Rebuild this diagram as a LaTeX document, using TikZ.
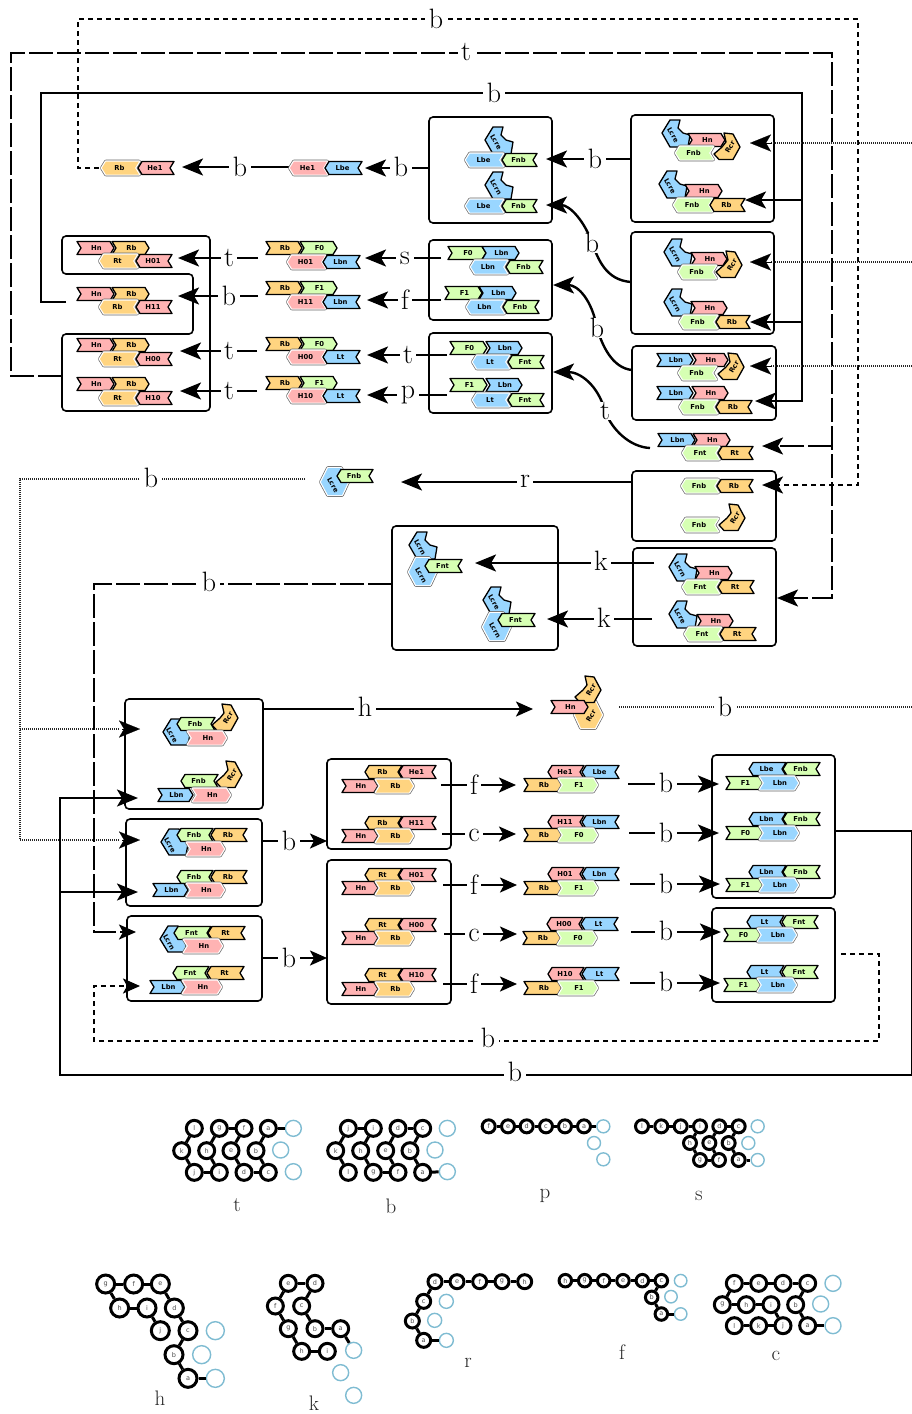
\documentclass[tikz,border=0pt]{standalone}
\usepackage{fontspec}
\usetikzlibrary{arrows.meta,fit}
\newfontfamily\glyf{DejaVu Sans}
\definecolor{bl}{HTML}{99D6FF}
\definecolor{pk}{HTML}{FFB3B3}
\definecolor{or}{HTML}{FFD480}
\definecolor{gr}{HTML}{D6FFB3}
\definecolor{ringblue}{HTML}{7FBCD2}
\tikzset{
  seglabel/.style={font=\glyf\bfseries\fontsize{6.8}{7}\selectfont,inner sep=0pt,text=black},
  box/.style={draw=black,line width=1.6pt,rounded corners=4pt,inner sep=0pt,outer sep=0pt},
  lbl/.style={font=\fontsize{28}{30}\selectfont,fill=white,inner xsep=3.5pt,inner ysep=0pt},
  captxt/.style={font=\fontsize{21}{23}\selectfont,inner sep=0pt,text=black!85},
  wire/.style={line width=2.4pt},
  arr/.style={wire,-{Stealth[length=21pt,width=17pt,inset=5pt]}},
  sarr/.style={wire,-{Stealth[length=17pt,width=15pt,inset=4pt]}},
  longd/.style={line width=2.5pt,dash pattern=on 24pt off 4pt},
  meddash/.style={line width=2.2pt,dash pattern=on 5pt off 4pt},
  fine/.style={line width=2pt,dash pattern=on 1pt off 1pt,draw=black!85},
  ringn/.style={circle,draw=black,fill=white,inner sep=0pt,font=\glyf\fontsize{6.5}{6.5}\selectfont,text=black!70},
  ringb/.style={circle,draw=ringblue,fill=white,line width=1.4pt,inner sep=0pt},
  ringl/.style={line width=3pt},
}
\newcommand\blkshape[2]{\path[draw=black,line width=1.3pt,fill=#1,line join=round] #2;}
\newcommand\grayshape[2]{\path[draw=black!60,line width=3.8pt,line join=round] #2; \path[draw=white,line width=2.4pt,line join=round] #2; \path[fill=#1] #2;}
\newcounter{sg}
\newcommand\seglab[2]{\stepcounter{sg}\node[seglabel] (sg\arabic{sg}) at (#1) {#2};}
\newcommand\pF[3]{(#1,#3-6.5)--(#2-4,#3-6.5)--(#2,#3)--(#2-4,#3+6.5)--(#1,#3+6.5)--(#1+4,#3)--cycle}
\newcommand\pR[3]{(#1+4,#3-6.5)--(#2,#3-6.5)--(#2-4,#3)--(#2,#3+6.5)--(#1+4,#3+6.5)--(#1,#3)--cycle}
% straight segments: x1 x2 y colour label
\newcommand\F[5]{\blkshape{#4}{\pF{#1}{#2}{#3}}\seglab{{(#1+#2)/2+1},#3}{#5}}
\newcommand\Fg[5]{\grayshape{#4}{\pF{#1}{#2}{#3}}\seglab{{(#1+#2)/2+1},#3}{#5}}
\newcommand\R[5]{\blkshape{#4}{\pR{#1}{#2}{#3}}\seglab{{(#1+#2)/2-1},#3}{#5}}
\newcommand\Rg[5]{\grayshape{#4}{\pR{#1}{#2}{#3}}\seglab{{(#1+#2)/2-1},#3}{#5}}
% hairpins
\newcommand\polyLA{(4,-13)--(-6,-13)--(-14,0)--(-6,14)--(12,14)--(14,2)--(7,0)--(2,-5)--cycle}
\newcommand\polyLB{(-12,0)--(-4,-13)--(6,-13)--(15,2)--(13,13)--(-4,13)--cycle}
\newcommand\polyHX{(-14,0)--(-7,-14)--(6,-14)--(13,0)--(7,13)--(-7,13)--cycle}
\newcommand\polyRN{(-3,-14)--(6,-13)--(13,0)--(6,12.5)--(-8,12.5)--(-13,7)--(-5,0)--(-1,-5)--cycle}
\newcommand\LA[3]{\begin{scope}[shift={(#1,#2)}]\blkshape{bl}{\polyLA}\stepcounter{sg}\node[seglabel,rotate=-60] (sg\arabic{sg}) at (-3,2) {#3};\end{scope}}
\newcommand\LB[3]{\begin{scope}[shift={(#1,#2)}]\blkshape{bl}{\polyLB}\stepcounter{sg}\node[seglabel,rotate=-60] (sg\arabic{sg}) at (-3,3) {#3};\end{scope}}
\newcommand\HX[3]{\begin{scope}[shift={(#1,#2)}]\grayshape{bl}{\polyHX}\stepcounter{sg}\node[seglabel,rotate=-60] (sg\arabic{sg}) at (-2,3) {#3};\end{scope}}
\newcommand\RN[2]{\begin{scope}[shift={(#1,#2)}]\blkshape{or}{\polyRN}\stepcounter{sg}\node[seglabel,rotate=60] (sg\arabic{sg}) at (3,0) {Rcr};\end{scope}}
\newcommand\RX[2]{\begin{scope}[shift={(#1,#2)},xscale=-1]\grayshape{or}{\polyHX}\end{scope}\stepcounter{sg}\node[seglabel,rotate=60] (sg\arabic{sg}) at (#1+3,#2+1) {Rcr};}
% boxes
\newcommand\bx[5]{\node[box,fit={(#2,#3) (#4,#5)}] (#1) {};}
% straight connector with a label
\newcommand\conn[6]{\coordinate (#1s) at (#3); \coordinate (#1e) at (#4); \draw[#2] (#1s) -- (#1e); \node[lbl] (#1l) at (#5) {#6};}
% ring diagrams: prefix, origin x, origin y, diameter, black nodes, blue nodes, chain
\newcommand\ringd[7]{\begin{scope}[shift={(#2,#3)},x=.33333pt,y=-.33333pt]
  \foreach \nn/\xx/\yy in {#5} {\node[ringn,line width=3pt,minimum size=#4pt] (#1\nn) at (\xx,\yy) {\nn};}
  \foreach \nn/\xx/\yy in {#6} {\node[ringb,minimum size=#4pt] (#1\nn) at (\xx,\yy) {};}
  \foreach \pp/\qq in {#7} {\draw[ringl] (#1\pp) -- (#1\qq);}
\end{scope}}
\begin{document}
\begin{tikzpicture}[x=1pt,y=-1pt]
\useasboundingbox (0,0) rectangle (912,1414);
\fill[white] (0,0) rectangle (912,1414);
% ---------- boxes
\bx{B1}{429}{117}{552}{223}
\bx{B2}{631}{115}{774}{222}
\bx{B3}{631}{232}{774}{334}
\bx{B4}{632}{346}{776}{420}
\bx{B5}{429}{240}{552}{320}
\bx{B6}{429}{333}{552}{413}
\bx{B7}{632}{471}{776}{541}
\bx{B8}{392}{526}{558}{650}
\bx{B9}{633}{548}{776}{646}
\bx{B10}{125}{699}{263}{809}
\bx{B11}{126}{819}{262}{906}
\bx{B12}{127}{916}{262}{1001}
\bx{B13}{327}{759}{451}{849}
\bx{B14}{327}{860}{451}{1004}
\bx{B15}{712}{755}{835}{898}
\bx{B16}{712}{908}{835}{1002}
\draw[box] (62,236) -- (210,236) -- (210,411) -- (62,411) -- (62,334) -- (193,334) -- (193,274) -- (62,274) -- cycle;
% ---------- connectors
% long dotted/dashed loops
\coordinate (a1) at (99,168); \coordinate (a2) at (78,168); \coordinate (a3) at (78,19); \coordinate (a4) at (858,19); \coordinate (a5) at (858,485); \coordinate (a6) at (762,485);
\draw[meddash,-{Stealth[length=21pt,width=17pt,inset=5pt]}] (a1) -- (a2) -- (a3) -- (a4) -- (a5) -- (a6);
\node[lbl] (a7) at (436,19) {b};
\coordinate (t1) at (62,376); \coordinate (t2) at (11,376); \coordinate (t3) at (11,53); \coordinate (t4) at (832,53); \coordinate (t5) at (832,598); \coordinate (t6) at (777,598); \coordinate (t7) at (832,446); \coordinate (t8) at (762,446);
\draw[longd,-{Stealth[length=21pt,width=17pt,inset=5pt]}] (t1) -- (t2) -- (t3) -- (t4) -- (t5) -- (t6);
\draw[longd,-{Stealth[length=21pt,width=17pt,inset=5pt]}] (t7) -- (t8);
\node[lbl] (t9) at (466,52) {t};
\coordinate (u1) at (66,302); \coordinate (u2) at (41,302); \coordinate (u3) at (41,93); \coordinate (u4) at (802,93); \coordinate (u5) at (802,401); \coordinate (u6) at (755,401); \coordinate (u7) at (802,200); \coordinate (u8) at (745,200); \coordinate (u9) at (802,322); \coordinate (u10) at (750,322);
\draw[arr] (u1) -- (u2) -- (u3) -- (u4) -- (u5) -- (u6);
\draw[arr] (u7) -- (u8);
\draw[arr] (u9) -- (u10);
\node[lbl] (u11) at (494,93) {b};
% dotted from the Hn Rcr product to the three right-hand entries
\coordinate (d1) at (912,143); \coordinate (d2) at (750,143); \coordinate (d3) at (912,262); \coordinate (d4) at (750,262); \coordinate (d5) at (912,366); \coordinate (d6) at (750,366);
\draw[fine] (d1) -- (770,143); \draw[arr,line width=.1pt] (772,143) -- (d2);
\draw[fine] (d3) -- (770,262); \draw[arr,line width=.1pt] (772,262) -- (d4);
\draw[fine] (d5) -- (770,366); \draw[arr,line width=.1pt] (772,366) -- (d6);
\conn{h2}{fine}{619,707}{912,707}{725,707}{b}
% right to left, upper block
\conn{c1}{arr}{B2.west |- 0,159}{546,159}{595,159}{b}
\conn{c2}{arr}{B1.west |- 0,168}{365,168}{401,167}{b}
\conn{c3}{arr}{290,167}{182,167}{240,167}{b}
\coordinate (v1) at (B3.west |- 0,282); \coordinate (v2) at (592,243); \coordinate (v3) at (546,205);
\draw[arr] (v1) .. controls (605,280) and (598,258) .. (v2) .. controls (585,222) and (570,205) .. (v3);
\node[lbl] (v4) at (v2) {b};
\coordinate (w1) at (B4.west |- 0,370); \coordinate (w2) at (597,328); \coordinate (w3) at (553,285);
\draw[arr] (w1) .. controls (612,368) and (602,345) .. (w2) .. controls (592,300) and (578,285) .. (w3);
\node[lbl] (w4) at (w2) {b};
\coordinate (y1) at (650,448); \coordinate (y2) at (605,411); \coordinate (y3) at (553,372);
\draw[arr] (y1) .. controls (630,447) and (612,430) .. (y2) .. controls (598,385) and (580,372) .. (y3);
\node[lbl] (y4) at (y2) {t};
\conn{e1}{arr}{441,258}{365,258}{405,258}{s}
\conn{e2}{arr}{441,300}{367,300}{405,300}{f}
\conn{e3}{arr}{447,355}{367,355}{408,355}{t}
\conn{e4}{arr}{447,395}{367,395}{408,395}{p}
\conn{e5}{arr}{258,258}{178,258}{229,258}{t}
\conn{e6}{arr}{258,296}{178,296}{229,296}{b}
\conn{e7}{arr}{257,351}{180,351}{229,351}{t}
\conn{e8}{arr}{257,391}{180,391}{229,391}{t}
\conn{e9}{arr}{B7.west |- 0,482}{401,482}{525,481}{r}
\conn{k1}{arr}{654,563}{475,563}{601,561}{k}
\conn{k2}{arr}{652,619}{547,619}{604,618}{k}
% left dotted fan
\coordinate (f1) at (305,479); \coordinate (f2) at (20,479); \coordinate (f3) at (20,840); \coordinate (f4) at (140,840); \coordinate (f5) at (20,729); \coordinate (f6) at (140,729);
\draw[fine] (f1) -- (f2) -- (f3) -- (120,840);
\draw[fine] (f5) -- (120,729);
\draw[arr,line width=.1pt] (122,840) -- (f4);
\draw[arr,line width=.1pt] (122,729) -- (f6);
\node[lbl] (f7) at (151,478) {b};
\coordinate (g1) at (B8.west |- 0,584); \coordinate (g2) at (94,584); \coordinate (g3) at (94,932); \coordinate (g4) at (136,932);
\draw[longd,-{Stealth[length=17pt,width=15pt,inset=4pt]}] (g1) -- (g2) -- (g3) -- (g4);
\node[lbl] (g5) at (209,582) {b};
% lower block
\conn{h1}{sarr}{B10.east |- 0,709}{533,709}{365,707}{h}
\conn{m1}{sarr}{B11.east |- 0,841}{B13.west |- 0,841}{289,841}{b}
\conn{m2}{sarr}{B12.east |- 0,958}{B14.west |- 0,958}{289,958}{b}
\conn{n1}{sarr}{441,785}{516,785}{474,785}{f}
\conn{n2}{sarr}{442,834}{516,834}{474,835}{c}
\conn{n3}{sarr}{443,885}{517,885}{474,885}{f}
\conn{n4}{sarr}{444,934}{517,934}{474,935}{c}
\conn{n5}{sarr}{443,984}{517,984}{474,984}{f}
\conn{o1}{arr}{628,784}{719,784}{666,783}{b}
\conn{o2}{arr}{629,833}{719,833}{666,833}{b}
\conn{o3}{arr}{630,884}{720,884}{666,884}{b}
\conn{o4}{arr}{631,932}{721,932}{666,931}{b}
\conn{o5}{arr}{630,983}{720,983}{666,982}{b}
\coordinate (q1) at (841,954); \coordinate (q2) at (879,954); \coordinate (q3) at (879,1041); \coordinate (q4) at (94,1041); \coordinate (q5) at (94,986); \coordinate (q6) at (140,986);
\draw[meddash,-{Stealth[length=17pt,width=15pt,inset=4pt]}] (q1) -- (q2) -- (q3) -- (q4) -- (q5) -- (q6);
\node[lbl] (q7) at (488,1038) {b};
\coordinate (r1) at (B15.east |- 0,831); \coordinate (r2) at (912,831); \coordinate (r3) at (912,1075); \coordinate (r4) at (60,1075); \coordinate (r5) at (60,798); \coordinate (r6) at (138,798); \coordinate (r7) at (60,892); \coordinate (r8) at (138,892);
\draw[arr] (r1) -- (r2) -- (r3) -- (r4) -- (r5) -- (r6);
\draw[arr] (r7) -- (r8);
\node[lbl] (r9) at (515,1072) {b};
% ---------- glyphs
% top chain
\Rg{102}{139}{168}{or}{Rb} \R{138}{174}{168}{pk}{He1}
\Rg{290}{327}{168}{pk}{He1} \R{325}{362}{168}{bl}{Lbe}
% B1
\LA{499}{140}{Lcre} \Rg{466}{503}{160}{bl}{Lbe} \R{502}{537}{160}{gr}{Fnb}
\LA{499}{185}{Lcrn} \Rg{466}{503}{206}{bl}{Lbe} \R{502}{537}{206}{gr}{Fnb}
% B2
\RN{727}{147} \LA{676}{133}{Lcre} \F{688}{725}{140}{pk}{Hn} \Rg{676}{713}{153}{gr}{Fnb}
\LA{673}{184}{Lcre} \F{685}{722}{191}{pk}{Hn} \Rg{674}{712}{205}{gr}{Fnb} \R{710}{745}{205}{or}{Rb}
% B3
\RN{729}{265} \LA{678}{252}{Lcrn} \F{691}{727}{259}{pk}{Hn} \Rg{679}{716}{272}{gr}{Fnb}
\LA{678}{302}{Lcrn} \F{691}{727}{308}{pk}{Hn} \Rg{680}{717}{322}{gr}{Fnb} \R{716}{750}{322}{or}{Rb}
% B4
\RN{731}{367} \F{657}{693}{360}{bl}{Lbn} \F{692}{728}{360}{pk}{Hn} \Rg{679}{716}{373}{gr}{Fnb}
\F{657}{693}{393}{bl}{Lbn} \F{692}{728}{393}{pk}{Hn} \Rg{680}{717}{407}{gr}{Fnb} \R{716}{752}{407}{or}{Rb}
% loose
\F{658}{695}{440}{bl}{Lbn} \F{693}{730}{440}{pk}{Hn} \Rg{683}{719}{453}{gr}{Fnt} \R{718}{753}{453}{or}{Rt}
% B5
\F{448}{486}{253}{gr}{F0} \F{482}{519}{253}{bl}{Lbn} \Rg{471}{507}{267}{bl}{Lbn} \R{506}{543}{267}{gr}{Fnb}
\F{445}{482}{293}{gr}{F1} \F{479}{516}{293}{bl}{Lbn} \Rg{467}{504}{307}{bl}{Lbn} \R{503}{539}{307}{gr}{Fnb}
% B6
\F{450}{487}{348}{gr}{F0} \F{486}{522}{348}{bl}{Lbn} \Rg{473}{509}{362}{bl}{Lt} \R{508}{544}{362}{gr}{Fnt}
\F{450}{487}{385}{gr}{F1} \F{486}{522}{385}{bl}{Lbn} \Rg{473}{509}{400}{bl}{Lt} \R{508}{544}{400}{gr}{Fnt}
% middle column chains
\F{266}{302}{248}{or}{Rb} \F{300}{337}{248}{gr}{F0} \Rg{288}{325}{262}{pk}{H01} \R{323}{360}{262}{bl}{Lbn}
\F{266}{302}{288}{or}{Rb} \F{300}{337}{288}{gr}{F1} \Rg{288}{325}{302}{pk}{H11} \R{323}{360}{302}{bl}{Lbn}
\F{266}{302}{344}{or}{Rb} \F{300}{337}{344}{gr}{F0} \Rg{288}{325}{357}{pk}{H00} \R{323}{360}{357}{bl}{Lt}
\F{266}{302}{383}{or}{Rb} \F{300}{337}{383}{gr}{F1} \Rg{288}{325}{396}{pk}{H10} \R{323}{360}{396}{bl}{Lt}
% left shape
\F{77}{114}{248}{pk}{Hn} \F{112}{149}{248}{or}{Rb} \Rg{100}{137}{261}{or}{Rt} \R{136}{172}{261}{pk}{H01}
\F{77}{114}{294}{pk}{Hn} \F{112}{149}{294}{or}{Rb} \Rg{100}{137}{307}{or}{Rb} \R{136}{172}{307}{pk}{H11}
\F{77}{114}{345}{pk}{Hn} \F{112}{149}{345}{or}{Rb} \Rg{100}{137}{359}{or}{Rt} \R{136}{172}{359}{pk}{H00}
\F{77}{114}{384}{pk}{Hn} \F{112}{149}{384}{or}{Rb} \Rg{100}{137}{398}{or}{Rt} \R{136}{172}{398}{pk}{H10}
% lone Lcre Fnb
\HX{335}{482}{Lcre} \R{337}{373}{476}{gr}{Fnb}
% B7
\Rg{682}{718}{486}{gr}{Fnb} \R{717}{753}{486}{or}{Rb}
\RN{732}{518} \Rg{682}{718}{525}{gr}{Fnb}
% B8
\LA{423}{545}{Lcrn} \HX{423}{572}{Lcrn} \R{425}{462}{566}{gr}{Fnt}
\LA{497}{600}{Lcre} \HX{497}{627}{Lcrn} \R{498}{535}{620}{gr}{Fnt}
% B9
\LA{683}{567}{Lcrn} \F{695}{732}{573}{pk}{Hn} \Rg{683}{719}{587}{gr}{Fnt} \R{718}{754}{587}{or}{Rt}
\LA{683}{614}{Lcre} \F{697}{733}{621}{pk}{Hn} \Rg{685}{721}{634}{gr}{Fnt} \R{720}{756}{634}{or}{Rt}
% Hn Rcr Rcr
\RX{588}{715} \RN{588}{690} \F{551}{588}{707}{pk}{Hn}
% B10
\LB{175}{732}{Lcre} \RN{225}{718} \R{177}{215}{724}{gr}{Fnb} \Fg{188}{226}{738}{pk}{Hn}
\RN{229}{775} \R{181}{218}{781}{gr}{Fnb} \F{158}{193}{795}{bl}{Lbn} \Fg{193}{230}{795}{pk}{Hn}
% B11
\LB{173}{842}{Lcre} \R{177}{213}{835}{gr}{Fnb} \R{211}{247}{835}{or}{Rb} \Fg{187}{224}{849}{pk}{Hn}
\R{177}{213}{877}{gr}{Fnb} \R{211}{247}{877}{or}{Rb} \F{153}{188}{890}{bl}{Lbn} \Fg{187}{224}{890}{pk}{Hn}
% B12
\LB{172}{939}{Lcrn} \R{174}{211}{933}{gr}{Fnt} \R{208}{245}{933}{or}{Rt} \Fg{184}{222}{946}{pk}{Hn}
\R{173}{209}{973}{gr}{Fnt} \R{207}{244}{973}{or}{Rt} \F{150}{185}{987}{bl}{Lbn} \Fg{183}{221}{987}{pk}{Hn}
% B13
\R{365}{402}{772}{or}{Rb} \R{399}{436}{772}{pk}{He1} \F{342}{378}{786}{pk}{Hn} \Fg{376}{413}{786}{or}{Rb}
\R{365}{402}{823}{or}{Rb} \R{399}{436}{823}{pk}{H11} \F{342}{378}{836}{pk}{Hn} \Fg{376}{413}{836}{or}{Rb}
% B14
\R{365}{402}{875}{or}{Rt} \R{399}{436}{875}{pk}{H01} \F{342}{378}{888}{pk}{Hn} \Fg{376}{413}{888}{or}{Rb}
\R{365}{402}{925}{or}{Rt} \R{399}{436}{925}{pk}{H00} \F{342}{378}{938}{pk}{Hn} \Fg{376}{413}{938}{or}{Rb}
\R{365}{402}{975}{or}{Rt} \R{399}{436}{975}{pk}{H10} \F{342}{378}{989}{pk}{Hn} \Fg{376}{413}{989}{or}{Rb}
% product chains
\R{548}{584}{772}{pk}{He1} \R{582}{619}{772}{bl}{Lbe} \F{524}{562}{785}{or}{Rb} \Fg{559}{597}{785}{gr}{F1}
\R{548}{584}{822}{pk}{H11} \R{582}{619}{822}{bl}{Lbn} \F{524}{562}{835}{or}{Rb} \Fg{559}{597}{835}{gr}{F0}
\R{548}{584}{874}{pk}{H01} \R{582}{619}{874}{bl}{Lbn} \F{524}{562}{888}{or}{Rb} \Fg{559}{597}{888}{gr}{F1}
\R{547}{583}{924}{pk}{H00} \R{581}{618}{924}{bl}{Lt} \F{523}{561}{938}{or}{Rb} \Fg{558}{596}{938}{gr}{F0}
\R{548}{584}{974}{pk}{H10} \R{582}{619}{974}{bl}{Lt} \F{524}{562}{988}{or}{Rb} \Fg{559}{597}{988}{gr}{F1}
% B15
\R{749}{786}{769}{bl}{Lbe} \R{783}{820}{769}{gr}{Fnb} \F{726}{763}{783}{gr}{F1} \Fg{760}{798}{783}{bl}{Lbn}
\R{749}{786}{819}{bl}{Lbn} \R{783}{820}{819}{gr}{Fnb} \F{726}{763}{833}{gr}{F0} \Fg{760}{798}{833}{bl}{Lbn}
\R{749}{786}{872}{bl}{Lbn} \R{783}{820}{872}{gr}{Fnb} \F{726}{763}{885}{gr}{F1} \Fg{760}{798}{885}{bl}{Lbn}
% B16
\R{747}{784}{922}{bl}{Lt} \R{782}{818}{922}{gr}{Fnt} \F{724}{761}{935}{gr}{F0} \Fg{758}{796}{935}{bl}{Lbn}
\R{747}{784}{972}{bl}{Lt} \R{782}{818}{972}{gr}{Fnt} \F{724}{761}{985}{gr}{F1} \Fg{758}{796}{985}{bl}{Lbn}
% ---------- ring diagrams
\ringd{ta}{160}{1105}{16}{l/103/70,g/178/70,f/252/70,a/325/70,k/65/137,h/140/137,e/213/137,b/288/137,j/103/202,i/178/202,d/252/202,c/325/202}{x/400/70,y/362/135,z/400/200}{l/k,k/j,j/i,i/h,h/g,g/f,f/e,e/d,d/c,c/b,b/a,a/x}
\ringd{tb}{160}{1105}{16}{j/565/70,i/640/70,d/714/70,c/788/70,k/527/137,h/602/137,e/677/137,b/750/137,l/565/202,g/640/202,f/714/202,a/788/202}{x/862/70,y/825/135,z/862/200}{l/k,k/j,j/i,i/h,h/g,g/f,f/e,e/d,d/c,c/b,b/a,a/z}
\ringd{tp}{470}{1105}{13}{f/56/64,e/114/64,d/170/64,c/228/64,b/285/64,a/342/64}{x/400/64,y/372/114,z/400/163}{f/e,e/d,d/c,c/b,b/a,a/x}
\ringd{ts}{470}{1105}{13}{l/516/64,k/574/64,j/632/64,i/690/64,d/748/64,c/806/64,h/660/114,e/718/114,b/776/114,g/690/165,f/747/165,a/806/165}{x/863/64,y/835/114,z/863/165}{l/k,k/j,j/i,i/h,h/g,g/f,f/e,e/d,d/c,c/b,b/a,a/z}
\ringd{th}{85}{1260}{18}{g/62/72,f/146/72,e/226/72,h/104/144,i/186/144,d/268/144,j/226/212,c/309/212,b/267/284,a/309/355}{x/391/212,y/350/284,z/391/355}{j/i,i/h,h/g,g/f,f/e,e/d,d/c,c/b,b/a,a/z}
\ringd{tk}{85}{1260}{16}{e/610/70,d/690/70,f/571/138,c/650/138,g/610/206,b/690/206,a/767/206,h/650/274,i/727/274}{x/806/271,y/767/338,z/806/406}{i/h,h/g,g/f,f/e,e/d,d/c,c/b,b/a,a/x}
\ringd{tr}{395}{1260}{14}{d/120/65,e/186/65,f/254/65,g/321/65,h/389/65,c/86/124,b/52/183,a/86/241}{x/154/124,y/119/181,z/154/241}{h/g,g/f,f/e,e/d,d/c,c/b,b/a,a/z}
\ringd{tf}{395}{1260}{12.5}{h/511/62,g/569/62,f/626/62,e/684/62,d/742/62,c/799/62,b/770/112,a/799/162}{x/857/62,y/828/110,z/857/162}{h/g,g/f,f/e,e/d,d/c,c/b,b/a,a/z}
\ringd{tc}{395}{1260}{16}{f/1018/70,e/1091/70,d/1164/70,c/1238/70,g/982/134,h/1054/134,i/1128/134,b/1202/134,l/1018/197,k/1091/197,j/1164/197,a/1238/197}{x/1314/70,y/1277/132,z/1314/197}{l/k,k/j,j/i,i/h,h/g,g/f,f/e,e/d,d/c,c/b,b/a,a/z}
% captions
\node[captxt] (ct) at (237,1205) {t};
\node[captxt] (cb) at (391,1206) {b};
\node[captxt] (cp) at (545,1196) {p};
\node[captxt] (cs) at (699,1196) {s};
\node[captxt] (ch) at (160,1398) {h};
\node[captxt] (ck) at (314,1403) {k};
\node[captxt] (cr) at (468,1363) {r};
\node[captxt] (cf) at (622,1352) {f};
\node[captxt] (cc) at (776,1356) {c};
\end{tikzpicture}
\end{document}
